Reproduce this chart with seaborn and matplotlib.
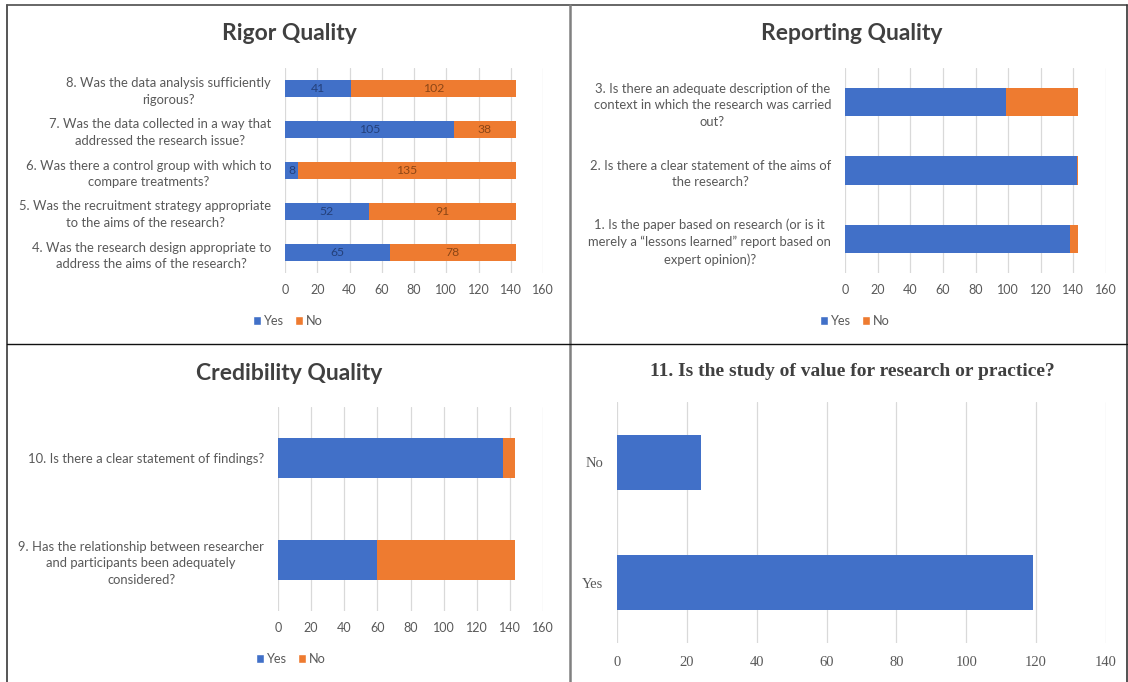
import numpy as np
import pandas as pd
import matplotlib
matplotlib.use("Agg")
import matplotlib.pyplot as plt
from matplotlib.lines import Line2D
from matplotlib.patches import Patch
import seaborn as sns

sns.set_theme(style="white")
plt.rcParams["font.family"] = ["Lato", "DejaVu Sans"]

BLUE = "#4170c8"
ORANGE = "#ee7b30"
TEXT = "#595959"
TITLE = "#404040"
GRID = "#d9d9d9"

# ---- data -------------------------------------------------------------
rigor_questions = [
    "8. Was the data analysis sufficiently\nrigorous?",
    "7. Was the data collected in a way that\naddressed the research issue?",
    "6. Was there a control group with which to\ncompare treatments?",
    "5. Was the recruitment strategy appropriate\nto the aims of the research?",
    "4. Was the research design appropriate to\naddress the aims of the research?",
]
rigor_yes = [41, 105, 8, 52, 65]
rigor_no = [102, 38, 135, 91, 78]

reporting_questions = [
    "3. Is there an adequate description of the\ncontext in which the research was carried\nout?",
    "2. Is there a clear statement of the aims of\nthe research?",
    "1. Is the paper based on research (or is it\nmerely a \u201clessons learned\u201d report based on\nexpert opinion)?",
]
reporting_yes = [99, 142, 138]
reporting_no = [44, 1, 5]

credibility_questions = [
    "10. Is there a clear statement of findings?",
    "9. Has the relationship between researcher\nand participants been adequately\nconsidered?",
]
credibility_yes = [136, 60]
credibility_no = [7, 83]

value_answers = ["No", "Yes"]
value_counts = [24, 119]

W, H = 1128, 682


def box(left, top, right, bottom):
    return [left / W, 1 - bottom / H, (right - left) / W, (bottom - top) / H]


fig = plt.figure(figsize=(W / 100, H / 100), dpi=100)


def stacked_panel(rect, questions, yes, no, title, title_xy, legend_xy,
                  bar_width, show_values=False):
    ax = fig.add_axes(box(*rect))
    df = pd.DataFrame({"q": questions, "yes": yes, "no": no})
    df["total"] = df["yes"] + df["no"]
    sns.barplot(data=df, x="total", y="q", color=ORANGE, width=bar_width,
                orient="h", ax=ax, saturation=1, linewidth=0)
    sns.barplot(data=df, x="yes", y="q", color=BLUE, width=bar_width,
                orient="h", ax=ax, saturation=1, linewidth=0)
    ax.set_xlim(0, 160)
    ax.set_ylim(len(questions) - 0.5, -0.5)
    ax.set_xticks(np.arange(0, 161, 20))
    ax.grid(axis="x", color=GRID, lw=0.9)
    ax.set_axisbelow(True)
    for s in ax.spines.values():
        s.set_visible(False)
    ax.set_xlabel("")
    ax.set_ylabel("")
    ax.tick_params(axis="y", length=0, pad=10, labelsize=9.4, labelcolor=TEXT)
    ax.tick_params(axis="x", length=0, pad=8, labelsize=9, labelcolor=TEXT)
    for lbl in ax.get_yticklabels():
        lbl.set_multialignment("center")
        lbl.set_linespacing(1.45)
    if show_values:
        for i, (y_, n_) in enumerate(zip(yes, no)):
            ax.text(y_ / 2, i, str(y_), ha="center", va="center",
                    fontsize=8.8, color="#24407a")
            ax.text(y_ + n_ / 2, i, str(n_), ha="center", va="center",
                    fontsize=8.8, color="#8c4616")
    fig.text(title_xy[0] / W, 1 - title_xy[1] / H, title, ha="center",
             va="center", fontsize=16.5, fontweight="bold", color=TITLE)
    handles = [Patch(facecolor=BLUE, label="Yes"),
               Patch(facecolor=ORANGE, label="No")]
    fig.legend(handles=handles, loc="center",
               bbox_to_anchor=(legend_xy[0] / W, 1 - legend_xy[1] / H),
               ncol=2, frameon=False, fontsize=9.2, handlelength=0.65,
               handleheight=0.65, handletextpad=0.25, columnspacing=0.8,
               labelcolor=TEXT)
    return ax


stacked_panel((285, 68, 543, 273), rigor_questions, rigor_yes, rigor_no,
              "Rigor Quality", (289, 33), (288, 321), 0.42, show_values=True)
stacked_panel((845, 68, 1106, 273), reporting_questions, reporting_yes,
              reporting_no, "Reporting Quality", (852, 33), (855, 321), 0.41)
stacked_panel((278, 407, 543, 611), credibility_questions, credibility_yes,
              credibility_no, "Credibility Quality", (289, 373), (291, 659),
              0.40)

# ---- single-series panel ----------------------------------------------
ax4 = fig.add_axes(box(617, 402, 1106, 643))
vdf = pd.DataFrame({"answer": value_answers, "count": value_counts})
sns.barplot(data=vdf, x="count", y="answer", color=BLUE, width=0.46,
            orient="h", ax=ax4, saturation=1, linewidth=0)
ax4.set_xlim(0, 140)
ax4.set_ylim(1.5, -0.5)
ax4.set_xticks(np.arange(0, 141, 20))
ax4.grid(axis="x", color=GRID, lw=0.9)
ax4.set_axisbelow(True)
for s in ax4.spines.values():
    s.set_visible(False)
ax4.set_xlabel("")
ax4.set_ylabel("")
serif = ["Liberation Serif", "DejaVu Serif"]
ax4.tick_params(axis="y", length=0, pad=10, labelsize=10.5, labelcolor=TEXT)
ax4.tick_params(axis="x", length=0, pad=9, labelsize=10.5, labelcolor=TEXT)
for lbl in ax4.get_xticklabels() + ax4.get_yticklabels():
    lbl.set_fontfamily(serif)
fig.text(852 / W, 1 - 372 / H,
         "11. Is the study of value for research or practice?",
         ha="center", va="center", fontsize=14, fontweight="bold",
         color=TITLE, family=serif)

# ---- panel frame -------------------------------------------------------
def fline(x0, y0, x1, y1, color, lw):
    fig.add_artist(Line2D([x0 / W, x1 / W], [1 - y0 / H, 1 - y1 / H],
                          color=color, lw=lw, transform=fig.transFigure))


fline(7, 5, 1127, 5, "#666666", 1.4)
fline(7, 5, 7, 682, "#555555", 1.4)
fline(1127, 5, 1127, 682, "#333333", 1.2)
fline(570, 5, 570, 682, "#808080", 1.8)
fline(7, 344, 1127, 344, "#111111", 1.0)

fig.savefig("out.png", dpi=100, facecolor="white")
